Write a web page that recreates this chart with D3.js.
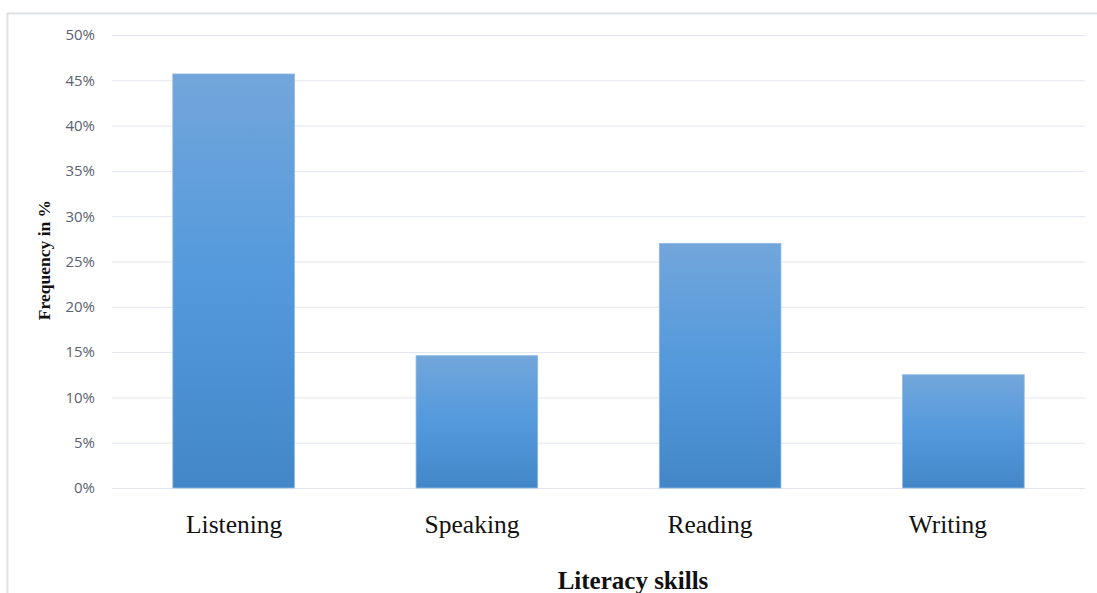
<!DOCTYPE html>
<html>
<head>
<meta charset="utf-8">
<script src="https://cdn.jsdelivr.net/npm/d3@7"></script>
<style>
  body { margin: 0; background: #fff; }
  svg { display: block; }
</style>
</head>
<body>
<svg id="chart" width="1097" height="593"></svg>
<script>
// data
const categories = ['Listening', 'Speaking', 'Reading', 'Writing'];
const values = [0.457, 0.146, 0.270, 0.125];
const yTicks = [0, 0.05, 0.10, 0.15, 0.20, 0.25, 0.30, 0.35, 0.40, 0.45, 0.50];

const width = 1097;
const height = 593;
const margin = {top: 35, right: 12, bottom: 105, left: 112};
const w = width - margin.left - margin.right;
const h = height - margin.top - margin.bottom;

const svg = d3.select('#chart');

// frame
svg.append('path')
  .attr('d', `M7.5,${height} V13.5 H${width}`)
  .attr('fill', 'none')
  .attr('stroke', '#dde1e6')
  .attr('stroke-width', 2);

const defs = svg.append('defs');
const grad = defs.append('linearGradient')
  .attr('id', 'barGrad')
  .attr('x1', 0).attr('y1', 0).attr('x2', 0).attr('y2', 1);
grad.append('stop').attr('offset', '0%').attr('stop-color', '#72a6db');
grad.append('stop').attr('offset', '50%').attr('stop-color', '#5399dc');
grad.append('stop').attr('offset', '100%').attr('stop-color', '#4387c8');

const main = svg.append('g')
  .attr('transform', `translate(${margin.left}, ${margin.top})`);

const xScale = d3.scaleBand()
  .range([0, w])
  .paddingInner(0.5)
  .paddingOuter(0.25)
  .domain(categories);

// category labels in the source sit a little left of the bar centres
const labelScale = d3.scalePoint()
  .range([xScale.step() / 2, w - xScale.step() / 2 - 16])
  .domain(categories);

const yScale = d3.scaleLinear()
  .range([h, 0])
  .domain([0, 0.5]);

// grid + y labels
const ygrid = main.append('g').call(d3.axisLeft(yScale)
  .tickValues(yTicks)
  .tickSize(-w)
  .tickPadding(17)
  .tickFormat(d3.format('.0%')));
ygrid.select('.domain').remove();
ygrid.selectAll('line')
  .attr('stroke', '#e3e6ee')
  .attr('stroke-width', 1);
ygrid.selectAll('text')
  .attr('fill', '#5b6270')
  .attr('font-family', 'Open Sans, sans-serif')
  .attr('font-size', 15);

// bars
main.selectAll('rect.bar')
  .data(categories.map((c, i) => ({cat: c, value: values[i]})))
  .enter()
  .append('rect')
  .attr('class', 'bar')
  .attr('x', d => xScale(d.cat))
  .attr('y', d => yScale(d.value))
  .attr('width', xScale.bandwidth())
  .attr('height', d => h - yScale(d.value))
  .attr('fill', 'url(#barGrad)')
  .attr('stroke', '#8fb8e4')
  .attr('stroke-width', 0.8);

// x labels
const xaxis = main.append('g')
  .attr('transform', `translate(0, ${h})`)
  .call(d3.axisBottom(labelScale).tickSize(0).tickPadding(27));
xaxis.select('.domain').remove();
xaxis.selectAll('text')
  .attr('fill', '#111')
  .attr('font-family', 'Liberation Serif, Times New Roman, serif')
  .attr('font-size', 25.5);

// axis titles
svg.append('text')
  .attr('x', 633)
  .attr('y', 589)
  .attr('text-anchor', 'middle')
  .attr('font-family', 'Liberation Serif, Times New Roman, serif')
  .attr('font-weight', 'bold')
  .attr('font-size', 25)
  .attr('fill', '#111')
  .text('Literacy skills');

svg.append('text')
  .attr('transform', 'translate(50, 260) rotate(-90)')
  .attr('text-anchor', 'middle')
  .attr('font-family', 'Liberation Serif, Times New Roman, serif')
  .attr('font-weight', 'bold')
  .attr('font-size', 17.5)
  .attr('fill', '#111')
  .text('Frequency in %');
</script>
</body>
</html>
